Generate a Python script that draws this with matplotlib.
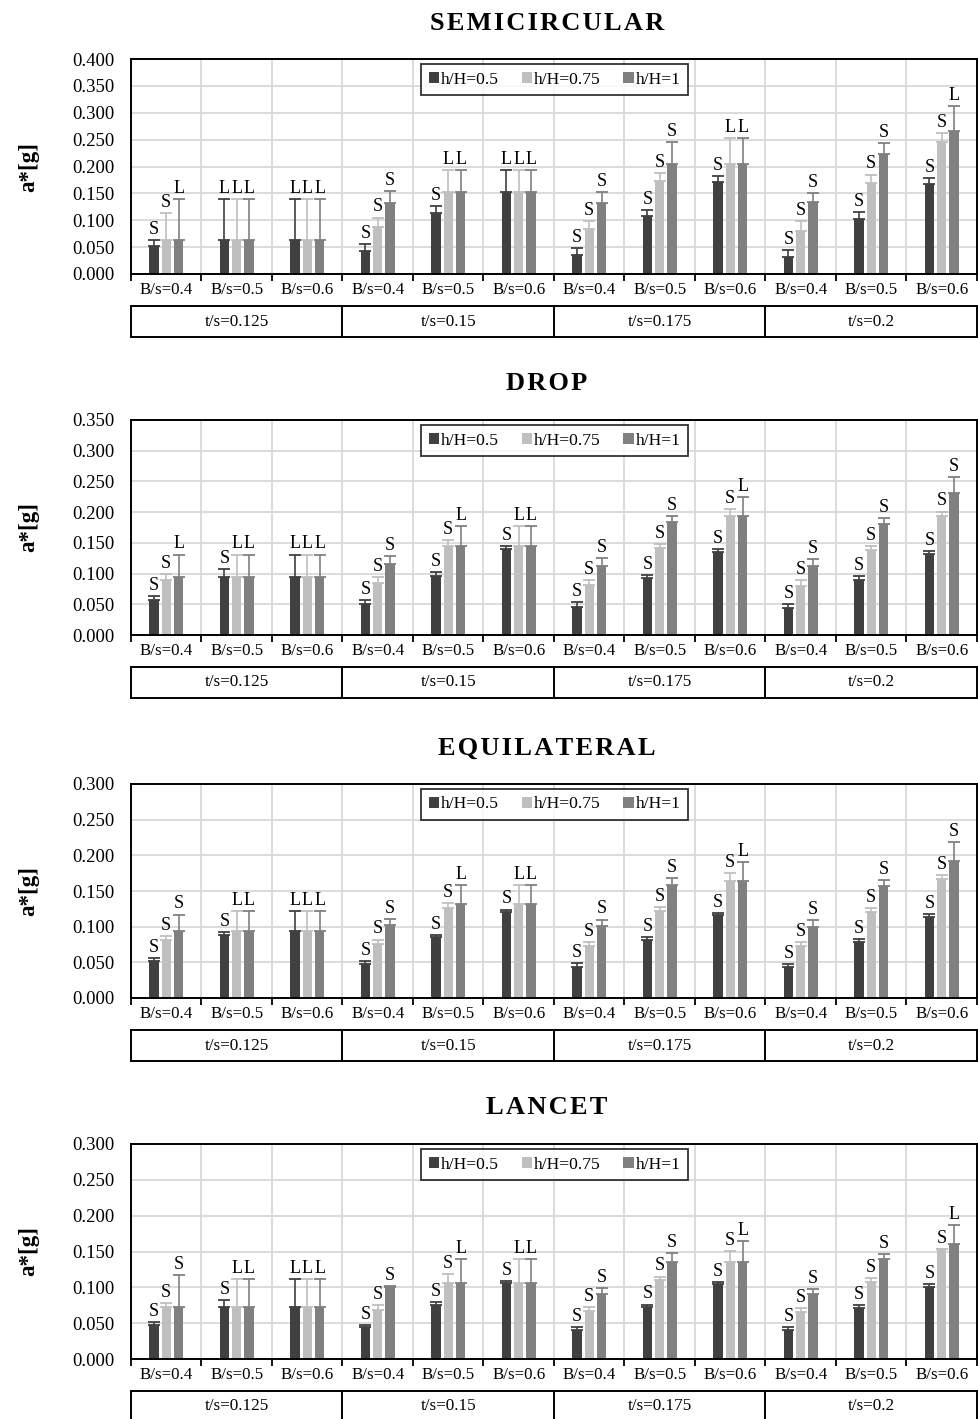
import numpy as np
import matplotlib
matplotlib.use("Agg")
import matplotlib.pyplot as plt
from matplotlib.patches import Patch

plt.rcParams['font.family'] = ['Liberation Serif', 'DejaVu Serif']

W, H = 979, 1419

b_labels = ["B/s=0.4", "B/s=0.5", "B/s=0.6"] * 4
t_labels = ["t/s=0.125", "t/s=0.15", "t/s=0.175", "t/s=0.2"]
series_names = ["h/H=0.5", "h/H=0.75", "h/H=1"]
colors = ["#404040", "#bfbfbf", "#808080"]

# semicircular
semi_h05 = [0.053, 0.063, 0.063, 0.043, 0.114, 0.152, 0.035, 0.108, 0.171, 0.031, 0.103, 0.168]
semi_h075 = [0.063, 0.063, 0.063, 0.088, 0.152, 0.152, 0.083, 0.173, 0.205, 0.080, 0.169, 0.246]
semi_h1 = [0.063, 0.063, 0.063, 0.132, 0.152, 0.152, 0.132, 0.205, 0.205, 0.134, 0.224, 0.266]
semi_err_h05 = [0.010, 0.076, 0.076, 0.012, 0.012, 0.042, 0.013, 0.011, 0.011, 0.014, 0.012, 0.010]
semi_err_h075 = [0.051, 0.076, 0.076, 0.017, 0.042, 0.042, 0.016, 0.015, 0.048, 0.019, 0.016, 0.016]
semi_err_h1 = [0.076, 0.076, 0.076, 0.023, 0.042, 0.042, 0.020, 0.041, 0.048, 0.016, 0.019, 0.046]
semi_lab_h05 = "SLLSSLSSSSSS"
semi_lab_h075 = "SLLSLLSSLSSS"
semi_lab_h1 = "LLLSLLSSLSSL"

# drop
drop_h05 = [0.057, 0.095, 0.095, 0.051, 0.096, 0.140, 0.046, 0.092, 0.135, 0.044, 0.089, 0.132]
drop_h075 = [0.089, 0.095, 0.095, 0.084, 0.145, 0.145, 0.081, 0.141, 0.194, 0.079, 0.138, 0.194]
drop_h1 = [0.095, 0.095, 0.095, 0.116, 0.145, 0.145, 0.113, 0.184, 0.194, 0.112, 0.180, 0.231]
drop_err_h05 = [0.006, 0.012, 0.036, 0.006, 0.006, 0.005, 0.007, 0.006, 0.005, 0.007, 0.007, 0.004]
drop_err_h075 = [0.010, 0.036, 0.036, 0.010, 0.009, 0.033, 0.009, 0.007, 0.011, 0.010, 0.007, 0.007]
drop_err_h1 = [0.036, 0.036, 0.036, 0.013, 0.033, 0.033, 0.012, 0.010, 0.031, 0.011, 0.011, 0.026]
drop_lab_h05 = "SSLSSSSSSSSS"
drop_lab_h075 = "SLLSSLSSSSSS"
drop_lab_h1 = "LLLSLLSSLSSS"

# equilateral
equi_h05 = [0.052, 0.089, 0.094, 0.048, 0.085, 0.120, 0.044, 0.081, 0.116, 0.043, 0.079, 0.114]
equi_h075 = [0.081, 0.094, 0.094, 0.076, 0.126, 0.132, 0.073, 0.122, 0.164, 0.073, 0.120, 0.167]
equi_h1 = [0.094, 0.094, 0.094, 0.103, 0.132, 0.132, 0.101, 0.159, 0.164, 0.100, 0.157, 0.192]
equi_err_h05 = [0.004, 0.004, 0.028, 0.004, 0.003, 0.004, 0.005, 0.004, 0.003, 0.004, 0.004, 0.004]
equi_err_h075 = [0.006, 0.028, 0.028, 0.006, 0.007, 0.026, 0.006, 0.006, 0.011, 0.006, 0.006, 0.005]
equi_err_h1 = [0.023, 0.028, 0.028, 0.008, 0.026, 0.026, 0.009, 0.009, 0.026, 0.009, 0.009, 0.027]
equi_lab_h05 = "SSLSSSSSSSSS"
equi_lab_h075 = "SLLSSLSSSSSS"
equi_lab_h1 = "SLLSLLSSLSSS"

# lancet
lanc_h05 = [0.048, 0.073, 0.073, 0.044, 0.076, 0.106, 0.041, 0.073, 0.105, 0.041, 0.071, 0.101]
lanc_h075 = [0.073, 0.073, 0.073, 0.069, 0.106, 0.106, 0.067, 0.110, 0.136, 0.066, 0.107, 0.153]
lanc_h1 = [0.073, 0.073, 0.073, 0.101, 0.106, 0.106, 0.091, 0.136, 0.136, 0.091, 0.140, 0.161]
lanc_err_h05 = [0.003, 0.009, 0.038, 0.004, 0.003, 0.003, 0.004, 0.003, 0.002, 0.004, 0.004, 0.003]
lanc_err_h075 = [0.005, 0.038, 0.038, 0.006, 0.012, 0.033, 0.005, 0.005, 0.015, 0.005, 0.006, 0.000]
lanc_err_h1 = [0.044, 0.038, 0.038, 0.001, 0.033, 0.033, 0.008, 0.012, 0.028, 0.006, 0.006, 0.026]
lanc_lab_h05 = "SSLSSSSSSSSS"
lanc_lab_h075 = "SLLSSLSSSSSS"
lanc_lab_h1 = "SLLSLLSSLSSL"

panels = [
    ("SEMICIRCULAR", 0.4, [semi_h05, semi_h075, semi_h1],
     [semi_err_h05, semi_err_h075, semi_err_h1], [semi_lab_h05, semi_lab_h075, semi_lab_h1]),
    ("DROP", 0.35, [drop_h05, drop_h075, drop_h1],
     [drop_err_h05, drop_err_h075, drop_err_h1], [drop_lab_h05, drop_lab_h075, drop_lab_h1]),
    ("EQUILATERAL", 0.3, [equi_h05, equi_h075, equi_h1],
     [equi_err_h05, equi_err_h075, equi_err_h1], [equi_lab_h05, equi_lab_h075, equi_lab_h1]),
    ("LANCET", 0.3, [lanc_h05, lanc_h075, lanc_h1],
     [lanc_err_h05, lanc_err_h075, lanc_err_h1], [lanc_lab_h05, lanc_lab_h075, lanc_lab_h1]),
]

# pixel rows (top, bottom) of each plot area
rows = [(59, 274), (420, 635), (784, 998), (1144, 1359)]
x_left, x_right = 131, 977

fig = plt.figure(figsize=(W / 100, H / 100), dpi=100)

x = np.arange(12)
offsets = [-0.175, 0.0, 0.175]
bw = 0.132

for (title, ymax, vals, errs, labs), (top, bot) in zip(panels, rows):
    ax = fig.add_axes([x_left / W, 1 - bot / H, (x_right - x_left) / W, (bot - top) / H])
    ax.set_axisbelow(True)
    for k in range(3):
        ax.bar(x + offsets[k], vals[k], width=bw, color=colors[k], zorder=2)
        ax.errorbar(x + offsets[k], vals[k], yerr=[np.zeros(12), errs[k]], fmt='none',
                    ecolor=colors[k], elinewidth=1.2, capsize=4.5, capthick=1.3, zorder=3)
        for i in range(12):
            ax.annotate(labs[k][i], (x[i] + offsets[k], vals[k][i] + errs[k][i]),
                        xytext=(0, 1.5), textcoords='offset points',
                        ha='center', va='bottom', fontsize=13)

    ax.set_xlim(-0.5, 11.5)
    ax.set_ylim(0, ymax)
    ax.set_yticks(np.arange(0, ymax + 1e-9, 0.05))
    ax.set_yticklabels(["%.3f" % v for v in np.arange(0, ymax + 1e-9, 0.05)], fontsize=13.5)
    ax.tick_params(axis='y', length=0, pad=12)
    ax.set_xticks(x)
    ax.set_xticklabels(b_labels, fontsize=12.2)
    ax.set_xticks(np.arange(-0.5, 12, 1.0), minor=True)
    ax.tick_params(axis='x', which='major', length=0, pad=6)
    ax.tick_params(axis='x', which='minor', length=5, width=1.3, direction='out', color='black')
    ax.grid(True, which='minor', axis='x', color='#d9d9d9', lw=1.3)
    ax.grid(True, which='major', axis='y', color='#d9d9d9', lw=1.3)
    for s in ax.spines.values():
        s.set_color('black')
        s.set_linewidth(1.4)

    handles = [Patch(facecolor=c, edgecolor='none') for c in colors]
    leg = ax.legend(handles, series_names, ncol=3, loc='upper left',
                    bbox_to_anchor=(0.343, 0.976), fontsize=12.6, frameon=True,
                    fancybox=False, handlelength=0.6, handleheight=0.6,
                    handletextpad=0.1, columnspacing=1.3, borderpad=0.42,
                    borderaxespad=0)
    leg.get_frame().set_edgecolor('black')
    leg.get_frame().set_linewidth(1.3)

    # second category row with the t/s boxes
    bx = fig.add_axes([x_left / W, 1 - (bot + 63) / H, (x_right - x_left) / W, 31 / H])
    bx.set_xlim(-0.5, 11.5)
    bx.set_ylim(0, 1)
    bx.set_xticks([])
    bx.set_yticks([])
    for s in bx.spines.values():
        s.set_color('black')
        s.set_linewidth(1.4)
    for b in [2.5, 5.5, 8.5]:
        bx.axvline(b, color='black', lw=1.4)
    for j, t in enumerate(t_labels):
        bx.text(3 * j + 1, 0.5, t, ha='center', va='center', fontsize=12.3)

    fig.text(29 / W, 1 - (top + bot) / 2 / H, "a*[g]", rotation=90, ha='center',
             va='center', fontsize=16.5, fontweight='bold')
    fig.text(547 / W, 1 - (top - 36) / H, "\u200a".join(title), ha='center', va='center',
             fontsize=19, fontweight='bold')

fig.savefig("out.png", dpi=100)
